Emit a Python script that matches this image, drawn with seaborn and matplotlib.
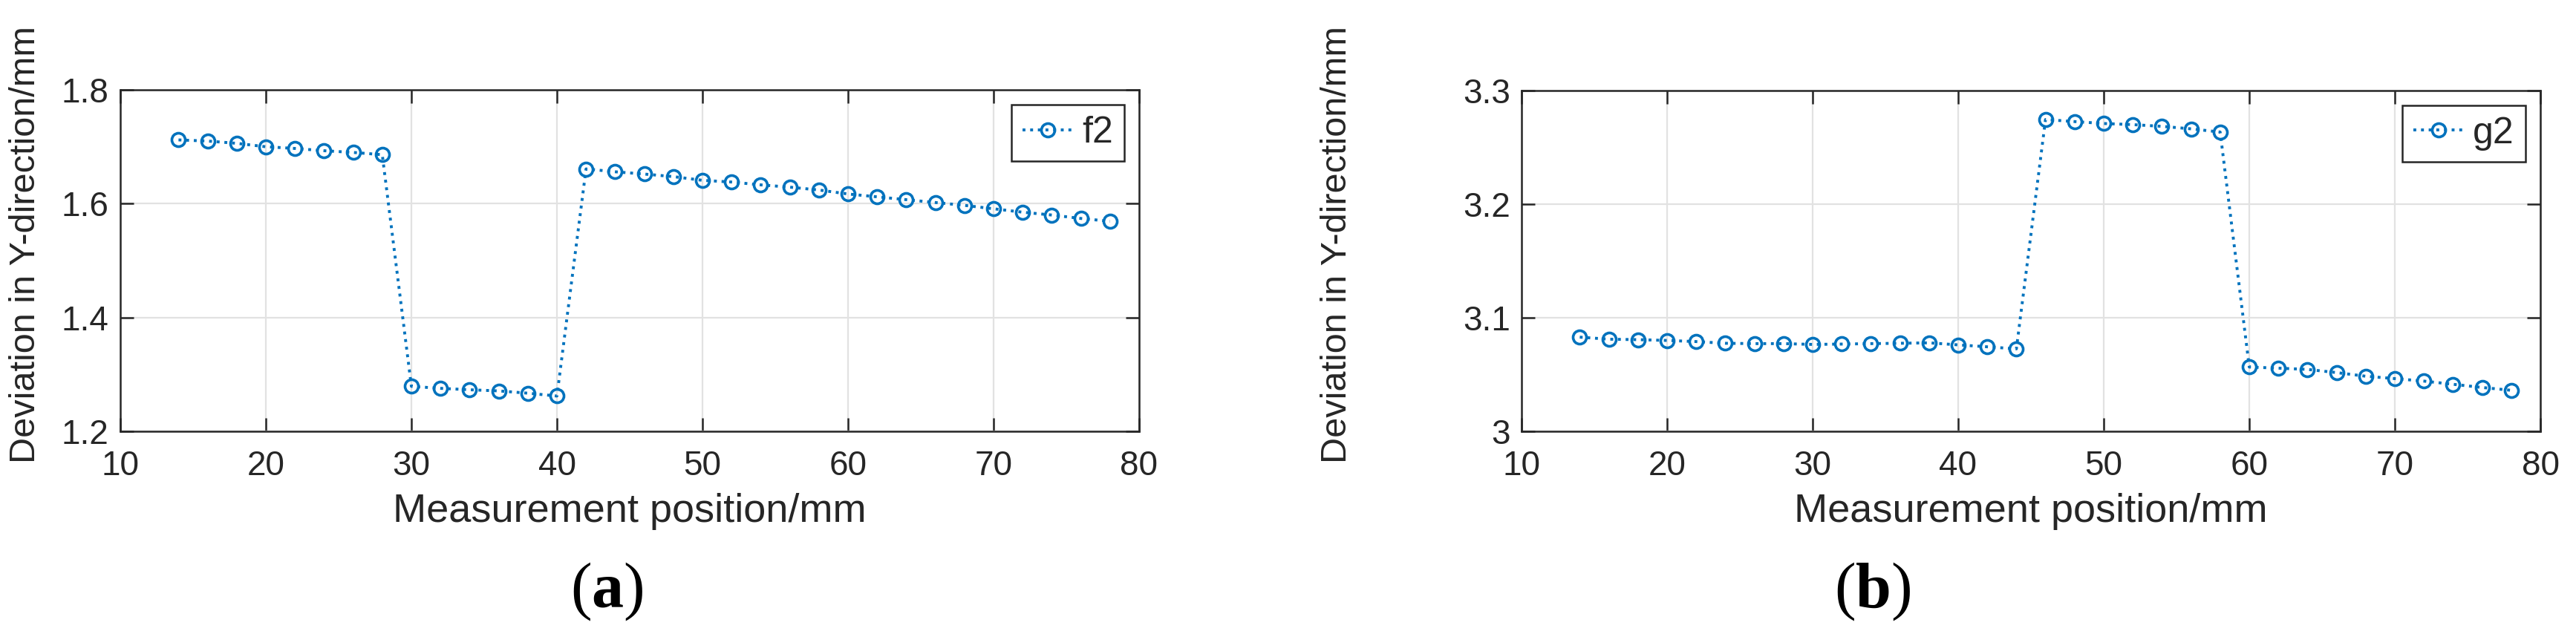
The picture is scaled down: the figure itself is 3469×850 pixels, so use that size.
import numpy as np
import pandas as pd
import matplotlib
matplotlib.use("Agg")
import matplotlib.pyplot as plt
import seaborn as sns

# ---------------- data ----------------
positions = [14, 16, 18, 20, 22, 24, 26, 28, 30, 32, 34, 36, 38, 40, 42, 44, 46,
             48, 50, 52, 54, 56, 58, 60, 62, 64, 66, 68, 70, 72, 74, 76, 78]

f2_values = [1.712, 1.710, 1.706, 1.700, 1.697, 1.693, 1.690, 1.686,
             1.279, 1.2755, 1.273, 1.271, 1.267, 1.262,
             1.661, 1.656, 1.652, 1.6475, 1.641, 1.638, 1.633, 1.629, 1.624,
             1.617, 1.612, 1.607, 1.602, 1.597, 1.591, 1.585, 1.580, 1.574, 1.569]

g2_values = [3.0829, 3.0811, 3.0807, 3.0800, 3.0790, 3.0775, 3.0772, 3.0772,
             3.0765, 3.0768, 3.0772, 3.0775, 3.0779, 3.0761, 3.0744, 3.0726,
             3.2745, 3.2727, 3.2710, 3.2700, 3.2685, 3.2663, 3.2635,
             3.0566, 3.0556, 3.0545, 3.0517, 3.0485, 3.0464, 3.0442, 3.0414, 3.0386, 3.0361]

x_ticks = [10, 20, 30, 40, 50, 60, 70, 80]
y_ticks_a = [1.2, 1.4, 1.6, 1.8]
y_ticks_b = [3.0, 3.1, 3.2, 3.3]
y_ticklabels_a = ["1.2", "1.4", "1.6", "1.8"]
y_ticklabels_b = ["3", "3.1", "3.2", "3.3"]
series_names = ["f2", "g2"]
panel_labels = ["a", "b"]
x_label = "Measurement position/mm"
y_label = "Deviation in Y-direction/mm"

# ---------------- style ----------------
sns.set_style("ticks")
plt.rcParams["font.family"] = ["Liberation Sans", "DejaVu Sans"]
plt.rcParams["mathtext.fontset"] = "custom"
plt.rcParams["mathtext.rm"] = "Liberation Serif"
plt.rcParams["mathtext.bf"] = "Liberation Serif:bold"

LINE_COLOR = "#0072BD"
W, H = 3469, 850
DPI = 100
fig = plt.figure(figsize=(W / DPI, H / DPI), dpi=DPI)

panels = [
    dict(rect=[162 / W, 1 - 581 / H, (1534 - 162) / W, (581 - 121) / H],
         y=f2_values, name=series_names[0], ylim=(1.2, 1.8),
         yticks=y_ticks_a, ylabels=y_ticklabels_a, lab=panel_labels[0],
         labx=817 / W, ylabx=35 / W),
    dict(rect=[2049 / W, 1 - 581 / H, (3421 - 2049) / W, (581 - 122) / H],
         y=g2_values, name=series_names[1], ylim=(3.0, 3.3),
         yticks=y_ticks_b, ylabels=y_ticklabels_b, lab=panel_labels[1],
         labx=2522 / W, ylabx=1800 / W),
]

for p in panels:
    ax = fig.add_axes(p["rect"])
    df = pd.DataFrame({"x": positions, "y": p["y"], "series": p["name"]})
    sns.lineplot(data=df, x="x", y="y", hue="series", palette=[LINE_COLOR],
                 ax=ax, linestyle=":", linewidth=2.8, marker="o",
                 markersize=13, markerfacecolor="none",
                 markeredgecolor=LINE_COLOR, markeredgewidth=2.6,
                 legend=True)
    ax.set_xlim(10, 80)
    ax.set_ylim(*p["ylim"])
    ax.set_xticks(x_ticks)
    ax.set_xticklabels([str(t) for t in x_ticks])
    ax.set_yticks(p["yticks"])
    ax.set_yticklabels(p["ylabels"])
    ax.grid(True, color="#e2e2e2", linewidth=1.6)
    ax.set_axisbelow(True)
    for s in ax.spines.values():
        s.set_visible(True)
        s.set_color("#262626")
        s.set_linewidth(1.8)
    ax.tick_params(axis="both", direction="in", length=13, width=1.8,
                   colors="#262626", labelsize=33, top=True, right=True)
    ax.tick_params(axis="x", pad=18)
    ax.tick_params(axis="y", pad=11)
    ax.set_xlabel(x_label, fontsize=39, color="#262626", labelpad=10)
    ax.set_ylabel("")
    fig.text(p["ylabx"], 1 - 330 / H, y_label, rotation=90, fontsize=35,
             color="#262626", ha="center", va="center")
    leg = ax.legend(loc="upper right", fontsize=36, frameon=True,
                    fancybox=False, borderpad=0.3, handlelength=1.35,
                    handletextpad=0.25, borderaxespad=0.4)
    leg.get_frame().set_edgecolor("#262626")
    leg.get_frame().set_linewidth(1.8)
    leg.get_frame().set_alpha(1)
    fig.text(p["labx"], 1 - 797 / H, r"($\mathbf{" + p["lab"] + r"}$)",
             fontsize=62, family="Liberation Serif", ha="center", va="center",
             color="black")

fig.savefig("out.png", dpi=DPI, facecolor="white")
